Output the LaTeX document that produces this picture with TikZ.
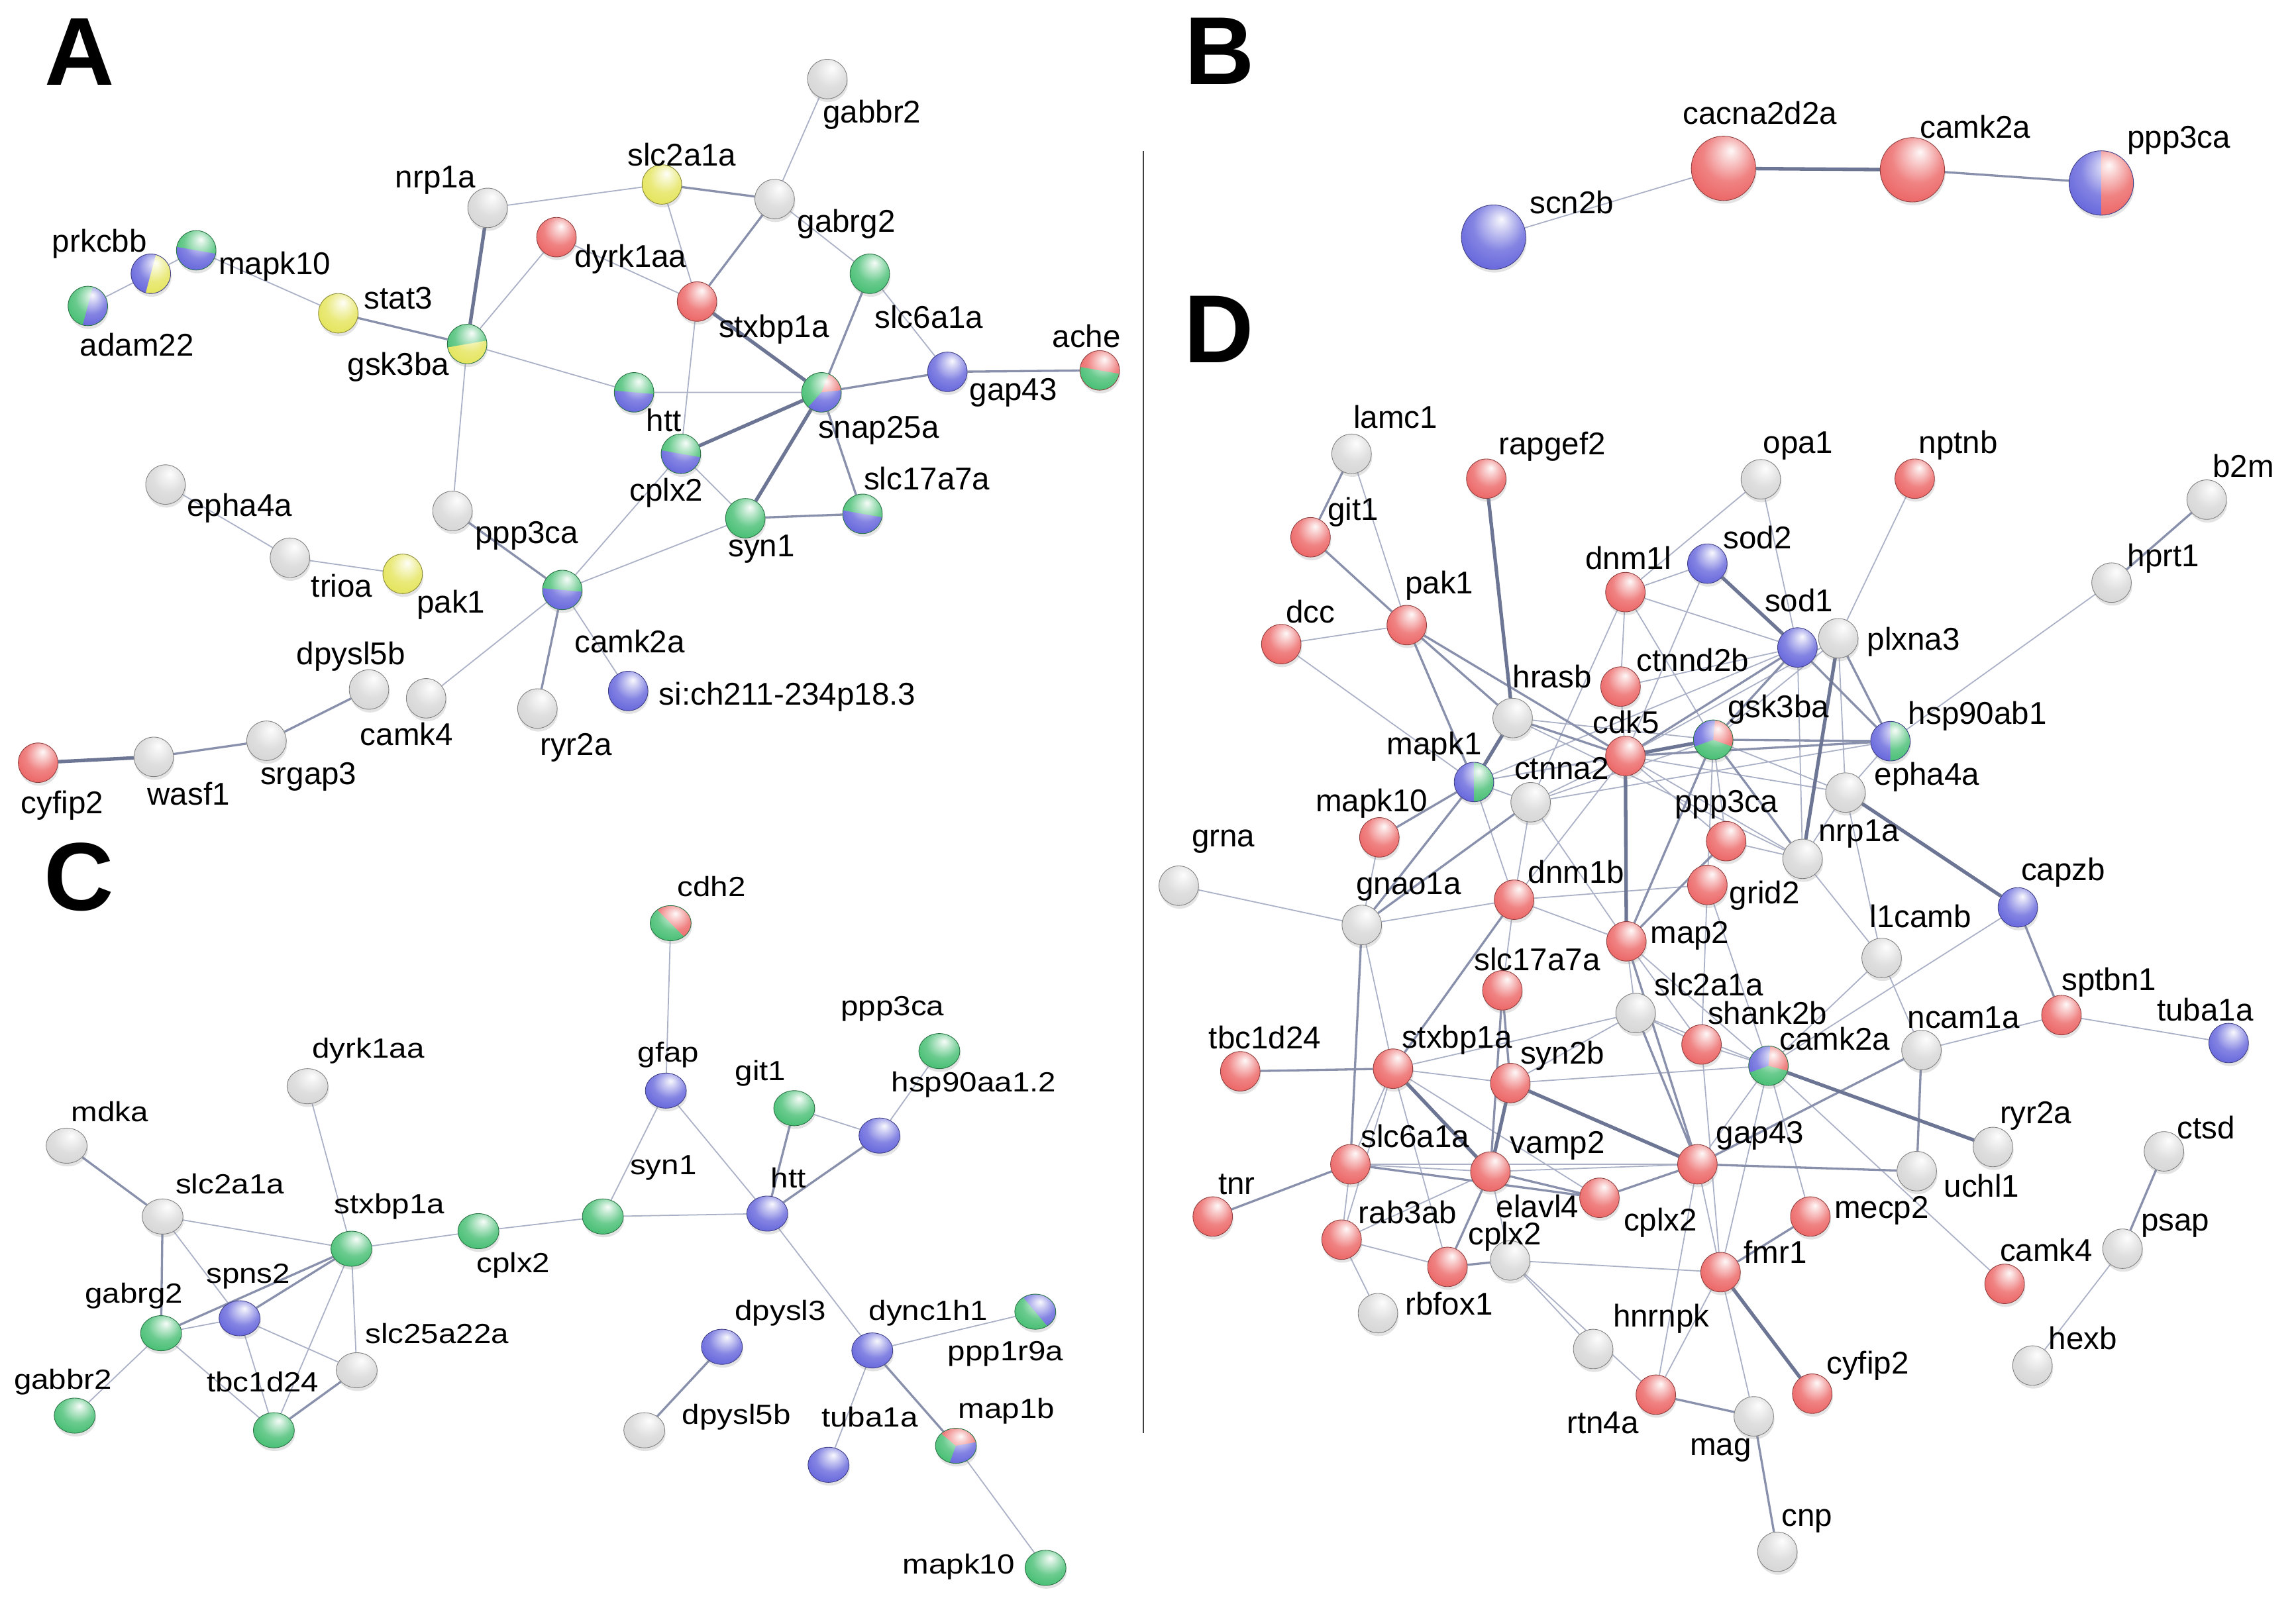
\documentclass[tikz,border=0pt]{standalone}
\usepackage{fontspec}
\setmainfont{Liberation Sans}
\usepackage{graphicx}
\usetikzlibrary{shapes.geometric,shadows,backgrounds}

\definecolor{genered}{HTML}{EC6464}
\definecolor{genegreen}{HTML}{45BE72}
\definecolor{geneblue}{HTML}{6565DC}
\definecolor{geneyellow}{HTML}{E4E45A}
\definecolor{genegray}{HTML}{D6D6D6}
\definecolor{linkthin}{HTML}{AAB0C6}
\definecolor{linkmid}{HTML}{8890AC}
\definecolor{linkthick}{HTML}{6C7694}
\colorlet{genecol}{genegray}

\pgfdeclareradialshading[genecol]{genesphere}{\pgfpoint{6bp}{14bp}}{%
  color(0bp)=(genecol!4!white);
  color(8bp)=(genecol!35!white);
  color(20bp)=(genecol!80!white);
  color(34bp)=(genecol);
  color(50bp)=(genecol!88!black);
  color(66bp)=(genecol!70!black)}

\newcommand{\ctxt}[1]{\scalebox{1}[0.88]{#1}}

\tikzset{
  gene/.style={circle, inner sep=0pt, minimum size=27pt,
    /utils/exec={\colorlet{genecol}{#1}}, shade, shading=genesphere,
    draw=#1!60!black, line width=0.4pt,
    drop shadow={shadow xshift=0.6pt, shadow yshift=-2.2pt, opacity=0.22}},
  genec/.style={gene=#1, ellipse, minimum width=28pt, minimum height=24pt},
  geneb/.style={gene=#1, minimum size=44pt},
  % second colour on one side of a line through the centre
  pie2/.style 2 args={path picture={
    \begin{scope}[shift={(path picture bounding box.center)}]
      \colorlet{genecol}{#1}
      \clip ({#2-90}:30pt) -- ({#2-45}:42.4pt) -- ({#2+45}:42.4pt) -- ({#2+90}:30pt) -- cycle;
      \shade[shading=genesphere] (path picture bounding box.south west) rectangle (path picture bounding box.north east);
    \end{scope}}},
  % two extra sectors
  pie3/.style n args={6}{path picture={
    \begin{scope}[shift={(path picture bounding box.center)}]
      \colorlet{genecol}{#1}
      \clip (0,0) -- (#2:40pt) -- ({(#2+#3)/2}:40pt) -- (#3:40pt) -- cycle;
      \shade[shading=genesphere] (path picture bounding box.south west) rectangle (path picture bounding box.north east);
    \end{scope}
    \begin{scope}[shift={(path picture bounding box.center)}]
      \colorlet{genecol}{#4}
      \clip (0,0) -- (#5:40pt) -- ({(#5+#6)/2}:40pt) -- (#6:40pt) -- cycle;
      \shade[shading=genesphere] (path picture bounding box.south west) rectangle (path picture bounding box.north east);
    \end{scope}}},
  lbl/.style={inner sep=0pt, font=\fontsize{21.5}{24}\selectfont},
  panel/.style={inner sep=0pt, font=\fontsize{66}{66}\selectfont\bfseries},
  lnk/.style={draw=linkthin, line width=0.8pt},
  lnkm/.style={draw=linkmid, line width=1.5pt},
  lnkt/.style={draw=linkthick, line width=2.4pt},
}

\begin{document}
\begin{tikzpicture}[x=1pt, y=-1pt]
\useasboundingbox (0,0) rectangle (1568,1097);

\node[panel] (lettA) at (54.5,35.5) {A};
\node[panel] (lettB) at (833,35) {B};
\node[panel] (lettC) at (54,599) {C};
\node[panel] (lettD) at (832.5,225) {D};

\coordinate (sepTop) at (781,103);
\coordinate (sepBot) at (781,979);
\draw[black!75, line width=0.9pt] (sepTop) -- (sepBot);

% panel A
\node[gene=genegray] (a-gabbr2) at (565,54) {};
\node[gene=geneyellow] (a-slc2a1a) at (452,126) {};
\node[gene=genegray] (a-gabrg2) at (529,136) {};
\node[gene=genegray] (a-nrp1a) at (333,142) {};
\node[gene=genered] (a-dyrk1aa) at (380,162) {};
\node[gene=geneblue, pie2={geneyellow}{-15}] (a-prkcbb) at (103,187) {};
\node[gene=genegreen, pie2={geneblue}{-100}] (a-mapk10) at (134,171) {};
\node[gene=genegreen, pie2={geneblue}{-15}] (a-adam22) at (60,209) {};
\node[gene=geneyellow] (a-stat3) at (231,214) {};
\node[gene=genegreen, pie2={geneyellow}{-80}] (a-gsk3ba) at (319,235) {};
\node[gene=genered] (a-stxbp1a) at (476,206) {};
\node[gene=genegreen] (a-slc6a1a) at (594,187) {};
\node[gene=geneblue] (a-gap43) at (647,254) {};
\node[gene=genered, pie2={genegreen}{-100}] (a-ache) at (751,253) {};
\node[gene=genegreen, pie2={geneblue}{-95}] (a-htt) at (433,268) {};
\node[gene=genegreen, pie3={genered}{6}{68}{geneblue}{-132}{6}] (a-snap25a) at (561,268) {};
\node[gene=genegreen, pie2={geneblue}{-100}] (a-cplx2) at (465,310) {};
\node[gene=genegreen, pie2={geneblue}{-100}] (a-slc17a7a) at (589,351) {};
\node[gene=genegreen] (a-syn1) at (509,354) {};
\node[gene=genegray] (a-ppp3ca) at (309,349) {};
\node[gene=genegray] (a-epha4a) at (113,331) {};
\node[gene=genegray] (a-trioa) at (198,381) {};
\node[gene=geneyellow] (a-pak1) at (275,392) {};
\node[gene=genegreen, pie2={geneblue}{-95}] (a-camk2a) at (384,403) {};
\node[gene=geneblue] (a-sich) at (429,472) {};
\node[gene=genegray] (a-ryr2a) at (367,484) {};
\node[gene=genegray] (a-camk4) at (291,477) {};
\node[gene=genegray] (a-dpysl5b) at (252,471) {};
\node[gene=genegray] (a-srgap3) at (182,506) {};
\node[gene=genegray] (a-wasf1) at (105,517) {};
\node[gene=genered] (a-cyfip2) at (26,521) {};

\node[lbl] (a-gabbr2-t) at (595.5,78.5) {gabbr2};
\node[lbl] (a-slc2a1a-t) at (465.7,105.5) {slc2a1a};
\node[lbl] (a-gabrg2-t) at (578,153) {gabrg2};
\node[lbl] (a-nrp1a-t) at (297.5,123) {nrp1a};
\node[lbl] (a-dyrk1aa-t) at (430.6,176.8) {dyrk1aa};
\node[lbl] (a-prkcbb-t) at (68,166.5) {prkcbb};
\node[lbl] (a-mapk10-t) at (187.7,182) {mapk10};
\node[lbl] (a-adam22-t) at (93.5,235.5) {adam22};
\node[lbl] (a-stat3-t) at (272,203.5) {stat3};
\node[lbl] (a-gsk3ba-t) at (272,250.5) {gsk3ba};
\node[lbl] (a-stxbp1a-t) at (528.5,225) {stxbp1a};
\node[lbl] (a-slc6a1a-t) at (634.5,216.6) {slc6a1a};
\node[lbl] (a-gap43-t) at (692,268) {gap43};
\node[lbl] (a-ache-t) at (742,229.7) {ache};
\node[lbl] (a-htt-t) at (453.3,287) {htt};
\node[lbl] (a-snap25a-t) at (600,294) {snap25a};
\node[lbl] (a-cplx2-t) at (455,336.6) {cplx2};
\node[lbl] (a-slc17a7a-t) at (633,326.8) {slc17a7a};
\node[lbl] (a-syn1-t) at (520,375) {syn1};
\node[lbl] (a-camk2a-t) at (430,438) {camk2a};
\node[lbl] (a-sich-t) at (537.7,475.8) {si:ch211-234p18.3};
\node[lbl] (a-ppp3ca-t) at (359.7,366) {ppp3ca};
\node[lbl] (a-epha4a-t) at (163.6,347) {epha4a};
\node[lbl] (a-trioa-t) at (233.5,400) {trioa};
\node[lbl] (a-pak1-t) at (308,413) {pak1};
\node[lbl] (a-dpysl5b-t) at (239.6,448.6) {dpysl5b};
\node[lbl] (a-camk4-t) at (277.7,501.7) {camk4};
\node[lbl] (a-ryr2a-t) at (393.3,510.5) {ryr2a};
\node[lbl] (a-srgap3-t) at (210.7,530.8) {srgap3};
\node[lbl] (a-wasf1-t) at (128.8,542) {wasf1};
\node[lbl] (a-cyfip2-t) at (42.5,550.4) {cyfip2};

% panel B
\node[geneb=geneblue] (b-scn2b) at (1020,162) {};
\node[geneb=genered] (b-cacna2d2a) at (1177,115) {};
\node[geneb=genered] (b-camk2a) at (1306,116) {};
\node[geneb=geneblue, pie2={genered}{0}] (b-ppp3ca) at (1435,125) {};

\node[lbl] (b-scn2b-t) at (1073.4,138) {scn2b};
\node[lbl] (b-cacna2d2a-t) at (1202,77.3) {cacna2d2a};
\node[lbl] (b-camk2a-t) at (1349,86.7) {camk2a};
\node[lbl] (b-ppp3ca-t) at (1488,96) {ppp3ca};

% panel C
\node[genec=genegray] (c-mdka) at (45.5,782.6) {};
\node[genec=genegray] (c-dyrk1aa) at (210,742) {};
\node[genec=genegray] (c-slc2a1a) at (111,831) {};
\node[genec=genegreen] (c-stxbp1a) at (240,853) {};
\node[genec=genegreen] (c-cplx2) at (326.7,841) {};
\node[genec=genegreen] (c-syn1) at (411.7,831) {};
\node[genec=geneblue] (c-spns2) at (163.6,900.5) {};
\node[genec=genegreen] (c-gabrg2) at (110,910.7) {};
\node[genec=genegreen] (c-gabbr2) at (51,967) {};
\node[genec=genegreen] (c-tbc1d24) at (187,977) {};
\node[genec=genegray] (c-slc25a22a) at (243.6,936) {};
\node[genec=genegreen, pie2={genered}{45}] (c-cdh2) at (458,630.6) {};
\node[genec=geneblue] (c-gfap) at (454.7,745) {};
\node[genec=genegreen] (c-git1) at (542.4,757) {};
\node[genec=genegreen] (c-ppp3ca) at (641.5,718) {};
\node[genec=geneblue] (c-hsp90aa12) at (600.6,775.7) {};
\node[genec=geneblue] (c-htt) at (524,829) {};
\node[genec=geneblue] (c-dpysl3) at (493,920) {};
\node[genec=genegray] (c-dpysl5b) at (440,977) {};
\node[genec=geneblue] (c-dync1h1) at (595.7,922.5) {};
\node[genec=genegreen, pie2={geneblue}{40}] (c-ppp1r9a) at (707,896) {};
\node[genec=geneblue] (c-tuba1a) at (565.8,1000.6) {};
\node[genec=genegreen, pie3={genered}{10}{140}{geneblue}{-110}{10}] (c-map1b) at (652.8,987.6) {};
\node[genec=genegreen] (c-mapk10) at (714,1071) {};

\node[lbl] (c-mdka-t) at (75,759.5) {\ctxt{mdka}};
\node[lbl] (c-dyrk1aa-t) at (251.5,718) {\ctxt{dyrk1aa}};
\node[lbl] (c-slc2a1a-t) at (157,808.6) {\ctxt{slc2a1a}};
\node[lbl] (c-stxbp1a-t) at (266,824) {\ctxt{stxbp1a}};
\node[lbl] (c-cplx2-t) at (350.5,864.6) {\ctxt{cplx2}};
\node[lbl] (c-syn1-t) at (453,797.8) {\ctxt{syn1}};
\node[lbl] (c-spns2-t) at (169.5,872) {\ctxt{spns2}};
\node[lbl] (c-gabrg2-t) at (91.5,885) {\ctxt{gabrg2}};
\node[lbl] (c-gabbr2-t) at (43,944) {\ctxt{gabbr2}};
\node[lbl] (c-tbc1d24-t) at (179.5,944) {\ctxt{tbc1d24}};
\node[lbl] (c-slc25a22a-t) at (298.5,911) {\ctxt{slc25a22a}};
\node[lbl] (c-cdh2-t) at (486,605.5) {\ctxt{cdh2}};
\node[lbl] (c-gfap-t) at (456.5,720.7) {\ctxt{gfap}};
\node[lbl] (c-git1-t) at (519.3,733) {\ctxt{git1}};
\node[lbl] (c-ppp3ca-t) at (609.5,689) {\ctxt{ppp3ca}};
\node[lbl] (c-hsp90aa12-t) at (665,741) {\ctxt{hsp90aa1.2}};
\node[lbl] (c-htt-t) at (538.5,804.6) {\ctxt{htt}};
\node[lbl] (c-dpysl3-t) at (533,897) {\ctxt{dpysl3}};
\node[lbl] (c-dpysl5b-t) at (503,968) {\ctxt{dpysl5b}};
\node[lbl] (c-dync1h1-t) at (634,897) {\ctxt{dync1h1}};
\node[lbl] (c-ppp1r9a-t) at (686.8,925) {\ctxt{ppp1r9a}};
\node[lbl] (c-tuba1a-t) at (594,968) {\ctxt{tuba1a}};
\node[lbl] (c-map1b-t) at (687.3,964) {\ctxt{map1b}};
\node[lbl] (c-mapk10-t) at (654.7,1070) {\ctxt{mapk10}};

% panel D
\node[gene=genegray] (d-lamc1) at (923,310) {};
\node[gene=genered] (d-rapgef2) at (1015,327) {};
\node[gene=genered] (d-git1) at (895,367) {};
\node[gene=genered] (d-dnm1l) at (1110,404.5) {};
\node[gene=geneblue] (d-sod2) at (1166,385) {};
\node[gene=genegray] (d-opa1) at (1202.5,327.4) {};
\node[gene=genered] (d-nptnb) at (1307.6,327) {};
\node[gene=genegray] (d-b2m) at (1507,341.3) {};
\node[gene=genegray] (d-hprt1) at (1442,398) {};
\node[gene=genered] (d-pak1) at (960.7,427) {};
\node[gene=genered] (d-dcc) at (875,440) {};
\node[gene=geneblue] (d-sod1) at (1227.5,442.3) {};
\node[gene=genegray] (d-plxna3) at (1255.4,436) {};
\node[gene=genered] (d-ctnnd2b) at (1106.7,469) {};
\node[gene=genegray] (d-hrasb) at (1033,490.5) {};
\node[gene=genered] (d-cdk5) at (1110,516.4) {};
\node[gene=genegreen, pie3={genered}{-20}{85}{geneblue}{85}{200}] (d-gsk3ba) at (1170,505.3) {};
\node[gene=geneblue, pie2={genegreen}{0}] (d-hsp90ab1) at (1291,506.3) {};
\node[gene=geneblue, pie2={genegreen}{0}] (d-mapk1) at (1006.6,534.2) {};
\node[gene=genegray] (d-ctnna2) at (1045.3,548) {};
\node[gene=genegray] (d-epha4a) at (1260.3,541.4) {};
\node[gene=genered] (d-mapk10) at (942,572) {};
\node[gene=genered] (d-ppp3ca) at (1178.8,574.6) {};
\node[gene=genegray] (d-nrp1a) at (1231,586.7) {};
\node[gene=genegray] (d-grna) at (805,605) {};
\node[gene=genered] (d-grid2) at (1166,604.5) {};
\node[gene=genered] (d-dnm1b) at (1034,614.6) {};
\node[gene=genegray] (d-gnao1a) at (930,631.8) {};
\node[gene=geneblue] (d-capzb) at (1378,619.8) {};
\node[gene=genered] (d-map2) at (1110.7,643) {};
\node[gene=genegray] (d-l1camb) at (1285,654.4) {};
\node[gene=genered] (d-slc17a7a) at (1026,676.5) {};
\node[gene=genegray] (d-slc2a1a) at (1117,692) {};
\node[gene=genered] (d-sptbn1) at (1407.8,693.4) {};
\node[gene=genered] (d-shank2b) at (1162,713.5) {};
\node[gene=geneblue] (d-tuba1a) at (1522,712.5) {};
\node[gene=genegray] (d-ncam1a) at (1312.2,717.3) {};
\node[gene=genegreen, pie3={genered}{-15}{85}{geneblue}{85}{200}] (d-camk2a) at (1207.7,728) {};
\node[gene=genered] (d-tbc1d24) at (847,731.8) {};
\node[gene=genered] (d-stxbp1a) at (951.3,730) {};
\node[gene=genered] (d-syn2b) at (1031.4,739.8) {};
\node[gene=genegray] (d-ryr2a) at (1361,783.5) {};
\node[gene=genegray] (d-ctsd) at (1477.8,786.5) {};
\node[gene=genered] (d-slc6a1a) at (922.2,795.3) {};
\node[gene=genered] (d-gap43) at (1159.2,795.3) {};
\node[gene=genered] (d-vamp2) at (1017.8,800.3) {};
\node[gene=genegray] (d-uchl1) at (1309,800) {};
\node[gene=genered] (d-cplx2b) at (1092.3,818.2) {};
\node[gene=genered] (d-mecp2) at (1236.3,831) {};
\node[gene=genered] (d-tnr) at (828.2,831) {};
\node[gene=genered] (d-rab3ab) at (916.2,846.8) {};
\node[gene=genegray] (d-psap) at (1449.5,853) {};
\node[gene=genegray] (d-elavl4) at (1031.3,861) {};
\node[gene=genered] (d-cplx2a) at (988.5,865.4) {};
\node[gene=genegray] (d-rbfox1) at (941,897) {};
\node[gene=genered] (d-camk4) at (1369,877) {};
\node[gene=genered] (d-fmr1) at (1175,869) {};
\node[gene=genegray] (d-hnrnpk) at (1088,921.5) {};
\node[gene=genegray] (d-hexb) at (1388,932.8) {};
\node[gene=genered] (d-cyfip2) at (1237.6,952) {};
\node[gene=genered] (d-rtn4a) at (1130.8,952.7) {};
\node[gene=genegray] (d-mag) at (1197.7,967.5) {};
\node[gene=genegray] (d-cnp) at (1213.8,1060) {};

\node[lbl] (d-lamc1-t) at (953,284.6) {lamc1};
\node[lbl] (d-rapgef2-t) at (1060,305) {rapgef2};
\node[lbl] (d-git1-t) at (924,349.7) {git1};
\node[lbl] (d-opa1-t) at (1228,304.4) {opa1};
\node[lbl] (d-nptnb-t) at (1337.4,304) {nptnb};
\node[lbl] (d-b2m-t) at (1532,318.2) {b2m};
\node[lbl] (d-dnm1l-t) at (1112,381) {dnm1l};
\node[lbl] (d-sod2-t) at (1200.3,367) {sod2};
\node[lbl] (d-hprt1-t) at (1477.5,381.4) {hprt1};
\node[lbl] (d-pak1-t) at (983,400) {pak1};
\node[lbl] (d-sod1-t) at (1228.5,410) {sod1};
\node[lbl] (d-dcc-t) at (895,418) {dcc};
\node[lbl] (d-plxna3-t) at (1306.8,438.4) {plxna3};
\node[lbl] (d-ctnnd2b-t) at (1156,451) {ctnnd2b};
\node[lbl] (d-hrasb-t) at (1060,462) {hrasb};
\node[lbl] (d-gsk3ba-t) at (1214.5,484.5) {gsk3ba};
\node[lbl] (d-hsp90ab1-t) at (1350.5,489) {hsp90ab1};
\node[lbl] (d-cdk5-t) at (1110.5,493.3) {cdk5};
\node[lbl] (d-mapk1-t) at (979.5,510) {mapk1};
\node[lbl] (d-ctnna2-t) at (1066.5,525) {ctnna2};
\node[lbl] (d-epha4a-t) at (1316,530.8) {epha4a};
\node[lbl] (d-mapk10-t) at (936.7,549) {mapk10};
\node[lbl] (d-ppp3ca-t) at (1179,549.6) {ppp3ca};
\node[lbl] (d-nrp1a-t) at (1269.5,569.8) {nrp1a};
\node[lbl] (d-grna-t) at (835.5,575) {grna};
\node[lbl] (d-dnm1b-t) at (1076.5,595.8) {dnm1b};
\node[lbl] (d-capzb-t) at (1409,595.8) {capzb};
\node[lbl] (d-gnao1a-t) at (962,605.8) {gnao1a};
\node[lbl] (d-grid2-t) at (1205,611.6) {grid2};
\node[lbl] (d-l1camb-t) at (1311.5,626) {l1camb};
\node[lbl] (d-map2-t) at (1154,639) {map2};
\node[lbl] (d-slc17a7a-t) at (1049.8,655.5) {slc17a7a};
\node[lbl] (d-sptbn1-t) at (1440.3,671.2) {sptbn1};
\node[lbl] (d-slc2a1a-t) at (1167,672.5) {slc2a1a};
\node[lbl] (d-tuba1a-t) at (1506,689.5) {tuba1a};
\node[lbl] (d-shank2b-t) at (1207,692) {shank2b};
\node[lbl] (d-ncam1a-t) at (1341,695) {ncam1a};
\node[lbl] (d-tbc1d24-t) at (863.8,708.8) {tbc1d24};
\node[lbl] (d-stxbp1a-t) at (995,710.3) {stxbp1a};
\node[lbl] (d-camk2a-t) at (1253,709.6) {camk2a};
\node[lbl] (d-syn2b-t) at (1067,721) {syn2b};
\node[lbl] (d-ryr2a-t) at (1390.3,762) {ryr2a};
\node[lbl] (d-ctsd-t) at (1506.5,770) {ctsd};
\node[lbl] (d-slc6a1a-t) at (966.4,776.2) {slc6a1a};
\node[lbl] (d-gap43-t) at (1202,776) {gap43};
\node[lbl] (d-vamp2-t) at (1063.7,782.7) {vamp2};
\node[lbl] (d-tnr-t) at (844.5,809) {tnr};
\node[lbl] (d-uchl1-t) at (1353.3,810) {uchl1};
\node[lbl] (d-elavl4-t) at (1050,824) {elavl4};
\node[lbl] (d-mecp2-t) at (1285,827) {mecp2};
\node[lbl] (d-rab3ab-t) at (961.3,828) {rab3ab};
\node[lbl] (d-cplx2b-t) at (1134,835) {cplx2};
\node[lbl] (d-cplx2a-t) at (1027.7,844.7) {cplx2};
\node[lbl] (d-psap-t) at (1485.5,837.4) {psap};
\node[lbl] (d-fmr1-t) at (1212.5,855) {fmr1};
\node[lbl] (d-camk4-t) at (1397.5,854) {camk4};
\node[lbl] (d-rbfox1-t) at (989.6,890.6) {rbfox1};
\node[lbl] (d-hnrnpk-t) at (1134.5,901) {hnrnpk};
\node[lbl] (d-hexb-t) at (1422.5,914) {hexb};
\node[lbl] (d-cyfip2-t) at (1275.5,933) {cyfip2};
\node[lbl] (d-rtn4a-t) at (1094.5,971.8) {rtn4a};
\node[lbl] (d-mag-t) at (1175,990.5) {mag};
\node[lbl] (d-cnp-t) at (1234,1039) {cnp};

\begin{pgfonlayer}{background}
% panel A links
\draw[lnk] (a-gabbr2) -- (a-gabrg2) (a-nrp1a) -- (a-slc2a1a) (a-slc2a1a) -- (a-stxbp1a)
  (a-dyrk1aa) -- (a-gsk3ba) (a-dyrk1aa) -- (a-stxbp1a) (a-prkcbb) -- (a-mapk10)
  (a-prkcbb) -- (a-adam22) (a-mapk10) -- (a-stat3) (a-gsk3ba) -- (a-htt)
  (a-gsk3ba) -- (a-ppp3ca) (a-stxbp1a) -- (a-cplx2) (a-slc6a1a) -- (a-gap43)
  (a-gabrg2) -- (a-slc6a1a) (a-htt) -- (a-snap25a) (a-cplx2) -- (a-syn1)
  (a-camk2a) -- (a-cplx2) (a-camk2a) -- (a-syn1) (a-camk2a) -- (a-sich)
  (a-camk2a) -- (a-camk4) (a-epha4a) -- (a-trioa) (a-trioa) -- (a-pak1);
\draw[lnkm] (a-slc2a1a) -- (a-gabrg2) (a-gabrg2) -- (a-stxbp1a) (a-stat3) -- (a-gsk3ba)
  (a-slc6a1a) -- (a-snap25a) (a-gap43) -- (a-snap25a) (a-gap43) -- (a-ache)
  (a-snap25a) -- (a-slc17a7a) (a-syn1) -- (a-slc17a7a) (a-camk2a) -- (a-ppp3ca)
  (a-camk2a) -- (a-ryr2a) (a-dpysl5b) -- (a-srgap3) (a-srgap3) -- (a-wasf1);
\draw[lnkt] (a-nrp1a) -- (a-gsk3ba) (a-stxbp1a) -- (a-snap25a) (a-cplx2) -- (a-snap25a)
  (a-snap25a) -- (a-syn1) (a-wasf1) -- (a-cyfip2);

% panel B links
\draw[lnk] (b-scn2b) -- (b-cacna2d2a);
\draw[lnkt] (b-cacna2d2a) -- (b-camk2a);
\draw[lnkm] (b-camk2a) -- (b-ppp3ca);

% panel C links
\draw[lnk] (c-dyrk1aa) -- (c-stxbp1a) (c-slc2a1a) -- (c-stxbp1a) (c-slc2a1a) -- (c-spns2)
  (c-stxbp1a) -- (c-cplx2) (c-cplx2) -- (c-syn1) (c-stxbp1a) -- (c-tbc1d24)
  (c-stxbp1a) -- (c-slc25a22a) (c-gabrg2) -- (c-tbc1d24) (c-spns2) -- (c-tbc1d24)
  (c-spns2) -- (c-slc25a22a) (c-gabrg2) -- (c-gabbr2) (c-gabrg2) -- (c-spns2)
  (c-syn1) -- (c-gfap) (c-syn1) -- (c-htt) (c-gfap) -- (c-cdh2) (c-gfap) -- (c-htt)
  (c-git1) -- (c-hsp90aa12) (c-hsp90aa12) -- (c-ppp3ca) (c-htt) -- (c-dync1h1)
  (c-dync1h1) -- (c-ppp1r9a) (c-dync1h1) -- (c-tuba1a) (c-map1b) -- (c-mapk10);
\draw[lnkm] (c-mdka) -- (c-slc2a1a) (c-slc2a1a) -- (c-gabrg2) (c-stxbp1a) -- (c-spns2)
  (c-stxbp1a) -- (c-gabrg2) (c-tbc1d24) -- (c-slc25a22a) (c-git1) -- (c-htt)
  (c-htt) -- (c-hsp90aa12) (c-dpysl3) -- (c-dpysl5b) (c-dync1h1) -- (c-map1b);

% panel D links
\draw[lnk] (d-lamc1) -- (d-pak1) (d-dcc) -- (d-pak1) (d-dcc) -- (d-mapk1)
  (d-hrasb) -- (d-gsk3ba) (d-hrasb) -- (d-nrp1a) (d-mapk1) -- (d-ctnna2)
  (d-mapk1) -- (d-dnm1b) (d-mapk1) -- (d-cdk5) (d-mapk1) -- (d-gsk3ba)
  (d-mapk10) -- (d-gnao1a) (d-grna) -- (d-gnao1a) (d-gnao1a) -- (d-dnm1b)
  (d-gnao1a) -- (d-stxbp1a) (d-dnm1l) -- (d-ctnnd2b) (d-dnm1l) -- (d-ctnna2)
  (d-dnm1l) -- (d-gsk3ba) (d-dnm1l) -- (d-sod2) (d-dnm1l) -- (d-sod1)
  (d-sod2) -- (d-cdk5) (d-opa1) -- (d-dnm1l) (d-opa1) -- (d-sod1)
  (d-nptnb) -- (d-plxna3) (d-hprt1) -- (d-hsp90ab1) (d-sod1) -- (d-ctnnd2b)
  (d-sod1) -- (d-mapk1) (d-sod1) -- (d-nrp1a) (d-plxna3) -- (d-epha4a)
  (d-plxna3) -- (d-gsk3ba) (d-plxna3) -- (d-cdk5) (d-gsk3ba) -- (d-ppp3ca)
  (d-gsk3ba) -- (d-grid2) (d-gsk3ba) -- (d-epha4a) (d-gsk3ba) -- (d-ctnna2)
  (d-cdk5) -- (d-ctnna2) (d-cdk5) -- (d-ctnnd2b) (d-cdk5) -- (d-dnm1b)
  (d-cdk5) -- (d-epha4a) (d-cdk5) -- (d-nrp1a) (d-cdk5) -- (d-ppp3ca)
  (d-hsp90ab1) -- (d-epha4a) (d-hsp90ab1) -- (d-ctnna2) (d-epha4a) -- (d-nrp1a)
  (d-epha4a) -- (d-l1camb) (d-nrp1a) -- (d-l1camb) (d-capzb) -- (d-camk2a)
  (d-sptbn1) -- (d-tuba1a) (d-sptbn1) -- (d-ncam1a) (d-l1camb) -- (d-ncam1a)
  (d-l1camb) -- (d-camk2a) (d-camk2a) -- (d-camk4) (d-camk2a) -- (d-mecp2)
  (d-camk2a) -- (d-fmr1) (d-camk2a) -- (d-shank2b) (d-camk2a) -- (d-slc2a1a)
  (d-camk2a) -- (d-map2) (d-camk2a) -- (d-syn2b) (d-camk2a) -- (d-grid2)
  (d-camk2a) -- (d-gap43) (d-gap43) -- (d-fmr1) (d-gap43) -- (d-vamp2)
  (d-gap43) -- (d-slc6a1a) (d-fmr1) -- (d-mag) (d-fmr1) -- (d-rtn4a)
  (d-fmr1) -- (d-shank2b) (d-fmr1) -- (d-elavl4) (d-elavl4) -- (d-rtn4a)
  (d-hnrnpk) -- (d-elavl4) (d-rtn4a) -- (d-gap43) (d-stxbp1a) -- (d-slc6a1a)
  (d-stxbp1a) -- (d-syn2b) (d-stxbp1a) -- (d-rab3ab) (d-stxbp1a) -- (d-slc2a1a)
  (d-stxbp1a) -- (d-cplx2a) (d-stxbp1a) -- (d-cplx2b) (d-syn2b) -- (d-slc2a1a)
  (d-slc6a1a) -- (d-rab3ab) (d-slc6a1a) -- (d-vamp2) (d-vamp2) -- (d-rab3ab)
  (d-vamp2) -- (d-elavl4) (d-rab3ab) -- (d-cplx2a) (d-rab3ab) -- (d-rbfox1)
  (d-map2) -- (d-shank2b) (d-map2) -- (d-dnm1b) (d-map2) -- (d-slc2a1a)
  (d-dnm1b) -- (d-grid2) (d-dnm1b) -- (d-ctnna2) (d-dnm1b) -- (d-slc17a7a)
  (d-slc2a1a) -- (d-shank2b) (d-shank2b) -- (d-grid2) (d-psap) -- (d-hexb)
  (d-ppp3ca) -- (d-nrp1a) (d-ctnna2) -- (d-map2);
\draw[lnkm] (d-lamc1) -- (d-git1) (d-git1) -- (d-pak1) (d-pak1) -- (d-mapk1)
  (d-pak1) -- (d-hrasb) (d-pak1) -- (d-cdk5) (d-hrasb) -- (d-cdk5)
  (d-mapk1) -- (d-mapk10) (d-mapk1) -- (d-gnao1a) (d-gnao1a) -- (d-ctnna2)
  (d-gnao1a) -- (d-slc6a1a) (d-b2m) -- (d-hprt1) (d-sod1) -- (d-gsk3ba)
  (d-sod1) -- (d-cdk5) (d-plxna3) -- (d-hsp90ab1) (d-sod1) -- (d-hsp90ab1)
  (d-gsk3ba) -- (d-hsp90ab1) (d-cdk5) -- (d-hsp90ab1) (d-gsk3ba) -- (d-nrp1a)
  (d-gsk3ba) -- (d-map2) (d-capzb) -- (d-sptbn1) (d-ncam1a) -- (d-uchl1)
  (d-ncam1a) -- (d-gap43) (d-gap43) -- (d-uchl1) (d-gap43) -- (d-cplx2b)
  (d-gap43) -- (d-slc2a1a) (d-mecp2) -- (d-fmr1) (d-mag) -- (d-cnp)
  (d-mag) -- (d-rtn4a) (d-tbc1d24) -- (d-stxbp1a) (d-tnr) -- (d-slc6a1a)
  (d-slc17a7a) -- (d-syn2b) (d-slc17a7a) -- (d-vamp2) (d-slc6a1a) -- (d-cplx2b)
  (d-vamp2) -- (d-cplx2b) (d-vamp2) -- (d-cplx2a) (d-cplx2a) -- (d-elavl4)
  (d-map2) -- (d-gap43) (d-map2) -- (d-ppp3ca) (d-dnm1b) -- (d-stxbp1a)
  (d-ctsd) -- (d-psap);
\draw[lnkt] (d-rapgef2) -- (d-hrasb) (d-hrasb) -- (d-mapk1) (d-sod2) -- (d-sod1)
  (d-plxna3) -- (d-nrp1a) (d-gsk3ba) -- (d-cdk5) (d-cdk5) -- (d-map2)
  (d-epha4a) -- (d-capzb) (d-camk2a) -- (d-ryr2a) (d-syn2b) -- (d-gap43)
  (d-fmr1) -- (d-cyfip2) (d-stxbp1a) -- (d-vamp2) (d-syn2b) -- (d-vamp2);
\end{pgfonlayer}
\end{tikzpicture}
\end{document}
